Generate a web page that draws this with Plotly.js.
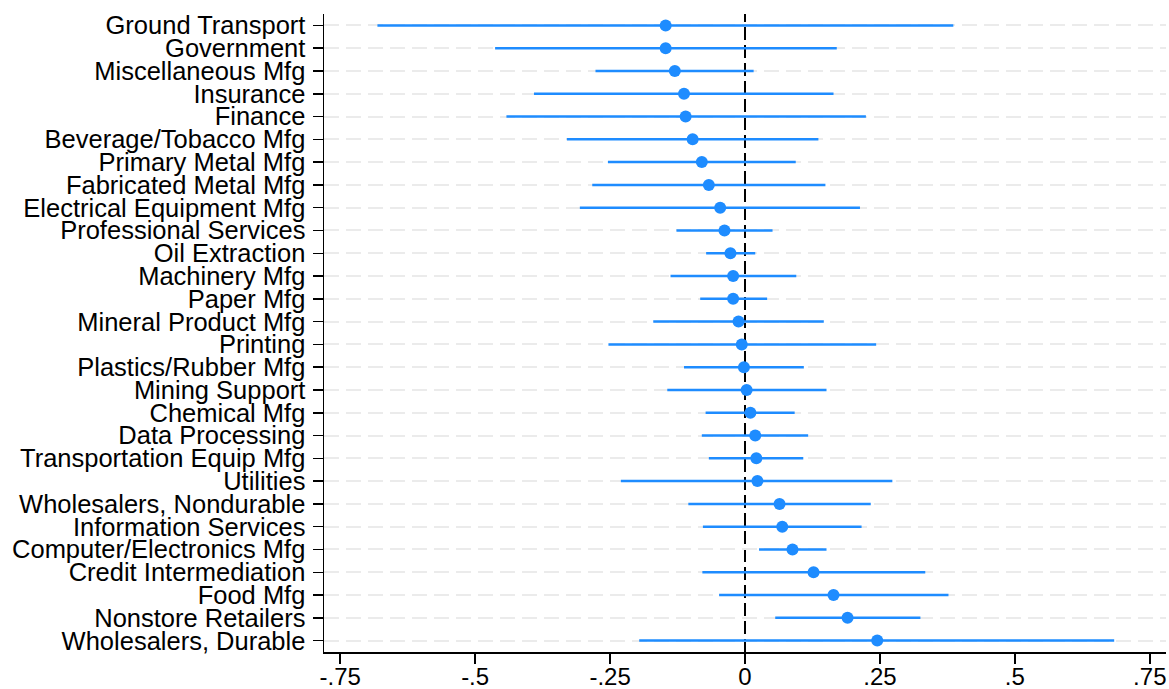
<!DOCTYPE html>
<html>
<head>
<meta charset="utf-8">
<script src="https://cdn.plot.ly/plotly-3.0.1.min.js"></script>
<style>html,body{margin:0;padding:0;background:#fff;}#chart{width:1169px;height:689px;}</style>
</head>
<body>
<div id="chart"></div>
<script>
const categories = [
  "Ground Transport","Government","Miscellaneous Mfg","Insurance","Finance",
  "Beverage/Tobacco Mfg","Primary Metal Mfg","Fabricated Metal Mfg","Electrical Equipment Mfg",
  "Professional Services","Oil Extraction","Machinery Mfg","Paper Mfg","Mineral Product Mfg",
  "Printing","Plastics/Rubber Mfg","Mining Support","Chemical Mfg","Data Processing",
  "Transportation Equip Mfg","Utilities","Wholesalers, Nondurable","Information Services",
  "Computer/Electronics Mfg","Credit Intermediation","Food Mfg","Nonstore Retailers","Wholesalers, Durable"
];
const estimates = [
  -0.147,-0.147,-0.130,-0.113,-0.110,
  -0.097,-0.080,-0.067,-0.046,
  -0.038,-0.027,-0.022,-0.022,-0.012,
  -0.006,-0.002,0.003,0.010,0.019,
  0.021,0.023,0.064,0.069,
  0.088,0.127,0.164,0.190,0.245
];
const lowerCI = [
  -0.681,-0.463,-0.277,-0.391,-0.442,
  -0.330,-0.254,-0.283,-0.306,
  -0.127,-0.072,-0.138,-0.083,-0.170,
  -0.253,-0.113,-0.144,-0.073,-0.080,
  -0.067,-0.230,-0.105,-0.078,
  0.026,-0.079,-0.048,0.056,-0.196
];
const upperCI = [
  0.386,0.170,0.016,0.164,0.224,
  0.136,0.094,0.149,0.213,
  0.051,0.019,0.095,0.041,0.146,
  0.243,0.109,0.151,0.092,0.117,
  0.108,0.273,0.233,0.216,
  0.151,0.334,0.377,0.325,0.684
];
const xTickVals = [-0.75,-0.5,-0.25,0,0.25,0.5,0.75];
const xTickText = ["-.75","-.5","-.25","0",".25",".5",".75"];

const blue = "#1E8CFF";
const trace = {
  type: "scatter",
  mode: "markers",
  x: estimates,
  y: categories,
  marker: {color: blue, size: 12},
  error_x: {
    type: "data",
    symmetric: false,
    array: upperCI.map((u,i)=>u-estimates[i]),
    arrayminus: estimates.map((e,i)=>e-lowerCI[i]),
    color: blue,
    thickness: 2.5,
    width: 0
  },
  hoverinfo: "x+y",
  showlegend: false
};

const family = "Liberation Sans, Arial, Helvetica, sans-serif";

const layout = {
  width: 1169,
  height: 689,
  margin: {l: 324, r: 3, t: 14, b: 37},
  paper_bgcolor: "#fff",
  plot_bgcolor: "#fff",
  font: {family: family, size: 25, color: "#000"},
  xaxis: {
    range: [-0.78, 0.78],
    tickmode: "array",
    tickvals: xTickVals,
    ticktext: xTickText,
    ticks: "outside",
    ticklen: 10,
    tickwidth: 1.5,
    tickcolor: "#000",
    showline: true,
    linecolor: "#000",
    linewidth: 1.5,
    showgrid: false,
    zeroline: false,
    tickfont: {family: family, size: 24, color: "#000"},
    ticklabelstandoff: -7
  },
  yaxis: {
    type: "category",
    categoryorder: "array",
    categoryarray: categories,
    tickmode: "array",
    tickvals: categories,
    ticktext: categories,
    range: [27.5, -0.5],
    ticks: "outside",
    ticklen: 10,
    tickwidth: 1.5,
    tickcolor: "#000",
    showline: true,
    linecolor: "#000",
    linewidth: 1.5,
    showgrid: true,
    gridcolor: "#ebebeb",
    gridwidth: 2,
    griddash: "15px,7px",
    zeroline: false,
    tickfont: {family: family, size: 25.5, color: "#000"},
    ticklabelstandoff: 2
  },
  shapes: [{
    type: "line",
    xref: "x", yref: "paper",
    x0: 0, x1: 0, y0: 0, y1: 1,
    line: {color: "#000", width: 2, dash: "13px,5px"},
    layer: "below"
  }]
};

Plotly.newPlot("chart", [trace], layout, {displayModeBar: false, staticPlot: true});
</script>
</body>
</html>
